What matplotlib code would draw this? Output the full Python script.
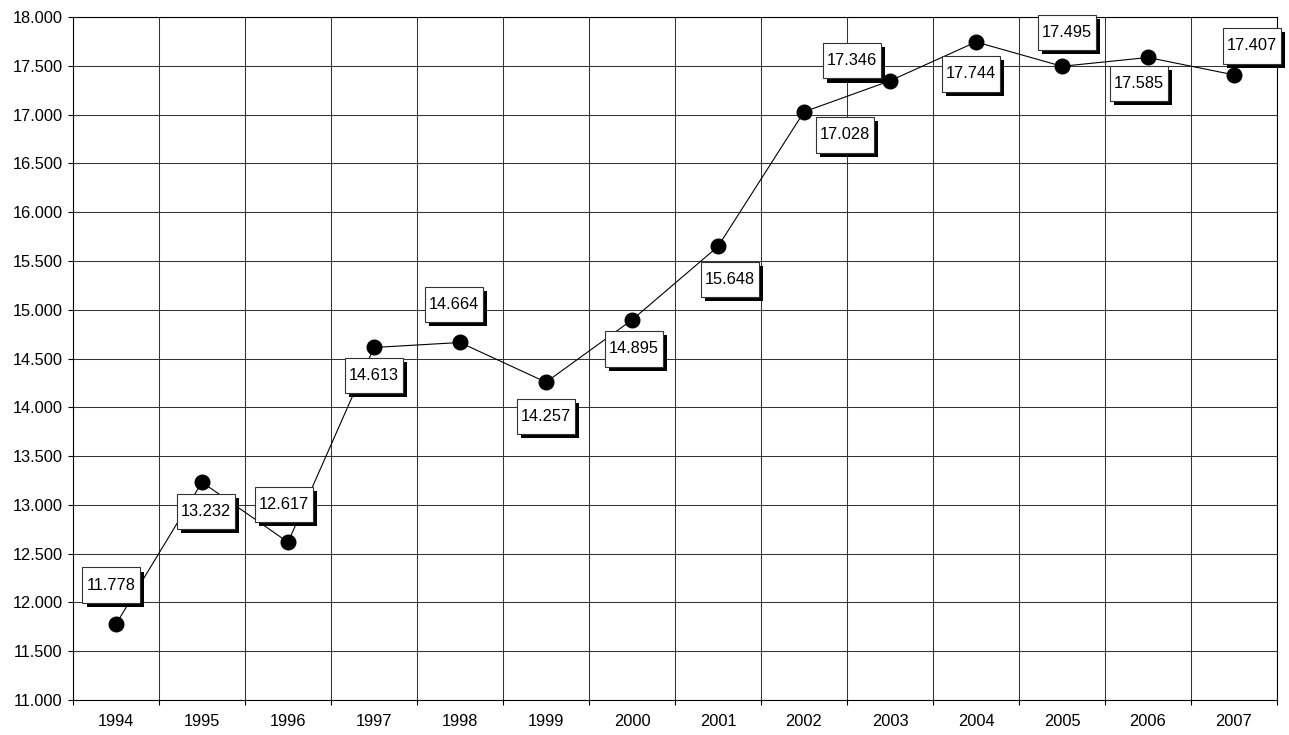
import numpy as np
import matplotlib.pyplot as plt
import matplotlib.patheffects as pe
from matplotlib.path import Path
from matplotlib.ticker import FixedLocator, FuncFormatter

plt.rcParams['font.family'] = ['Liberation Sans', 'DejaVu Sans']

years = ['1994', '1995', '1996', '1997', '1998', '1999', '2000',
         '2001', '2002', '2003', '2004', '2005', '2006', '2007']
values = [11778, 13232, 12617, 14613, 14664, 14257, 14895,
          15648, 17028, 17346, 17744, 17495, 17585, 17407]

# where each value box sits, in pixels from its point (dx right, dy down)
label_offsets = [(-5, -39), (4, 29), (-4, -38), (0, 28), (-6, -38), (0, 34), (2, 29),
                 (12, 33), (41, 23), (-38, -20), (-5, 32), (5, -34), (-9, 26), (18, -29)]


def fmt(v, pos=None):
    return '{:,}'.format(int(v)).replace(',', '.')


def label_box(x0, y0, width, height, mutation_size):
    # plain rectangle, narrower padding left/right than top/bottom
    px = 0.25 * mutation_size
    py = 0.62 * mutation_size
    x0, y0 = x0 - px, y0 - py
    x1, y1 = x0 + width + 2 * px, y0 + height + 2 * py
    return Path([(x0, y0), (x1, y0), (x1, y1), (x0, y1), (x0, y0)], closed=True)


fig = plt.figure(figsize=(12.89, 7.35), dpi=100)
ax = fig.add_axes([73 / 1289, 35 / 735, 1204 / 1289, 683 / 735])

x = np.arange(len(years))
ax.plot(x, values, color='black', lw=0.8, marker='o', ms=10.5, mfc='black', mec='black', zorder=3)

shadow = [pe.SimplePatchShadow(offset=(3, -3), shadow_rgbFace='black', alpha=1.0), pe.Normal()]
for i, v in enumerate(values):
    dx, dy = label_offsets[i]
    t = ax.annotate(fmt(v), xy=(i, v), xytext=(dx, -dy), textcoords='offset pixels',
                    ha='center', va='center', fontsize=11.8, color='black',
                    bbox=dict(boxstyle=label_box, fc='white', ec='#333333', lw=0.8), zorder=5)
    t.get_bbox_patch().set_path_effects(shadow)

ax.set_xlim(-0.5, len(years) - 0.5)
ax.set_ylim(11000, 18000)
ax.set_yticks(np.arange(11000, 18001, 500))
ax.yaxis.set_major_formatter(FuncFormatter(fmt))
ax.set_xticks(x)
ax.set_xticklabels(years)
ax.xaxis.set_minor_locator(FixedLocator(np.arange(-0.5, len(years), 1.0)))

ax.tick_params(axis='x', which='major', length=0, pad=10, labelsize=11.8)
ax.tick_params(axis='x', which='minor', length=3.5, width=0.8, direction='out')
ax.tick_params(axis='y', length=3.5, width=0.8, pad=4, labelsize=11.8)

ax.grid(True, which='major', axis='y', color='#333333', lw=0.75)
ax.grid(True, which='minor', axis='x', color='#333333', lw=0.75)
ax.set_axisbelow(True)
for s in ax.spines.values():
    s.set_color('black')
    s.set_linewidth(0.8)

fig.savefig('out.png', dpi=100)
